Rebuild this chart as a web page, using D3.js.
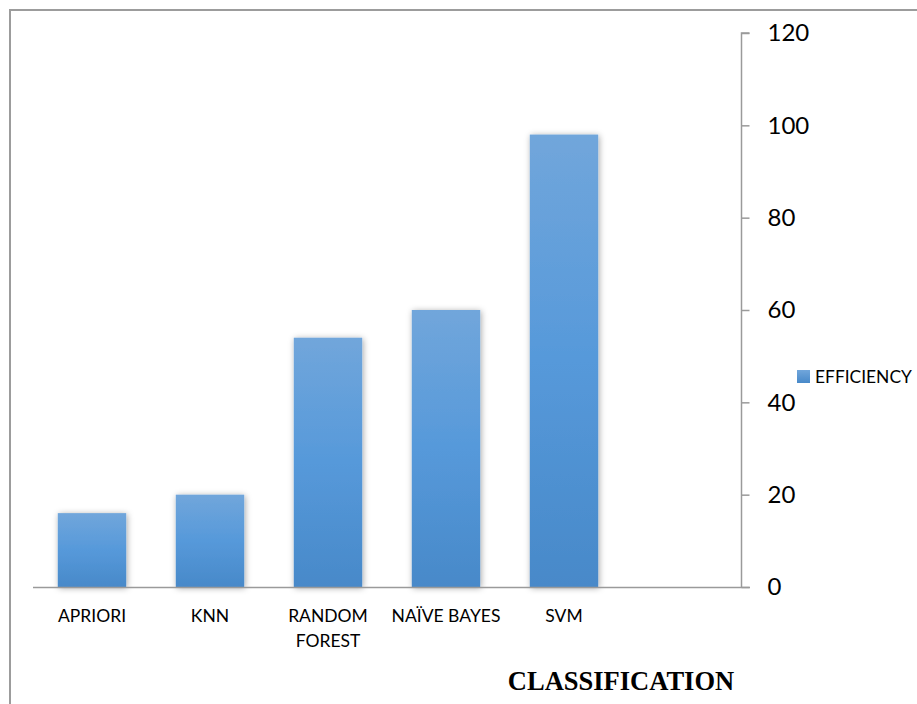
<!DOCTYPE html>
<html>
<head>
<meta charset="utf-8">
<script src="https://cdn.jsdelivr.net/npm/d3@7"></script>
<style>
  html, body { margin: 0; padding: 0; background: #fff; }
  svg { display: block; }
</style>
</head>
<body>
<svg id="chart" width="917" height="704"></svg>
<script>
// Classifier efficiency values; the last slot is left empty on purpose.
const categories = ["APRIORI", "KNN", "RANDOM FOREST", "NAÏVE BAYES", "SVM", ""];
const efficiency = [16, 20, 54, 60, 98, null];
const yTicks = [0, 20, 40, 60, 80, 100, 120];
const seriesName = "EFFICIENCY";
const axisTitle = "CLASSIFICATION";

const svg = d3.select("#chart");
const W = 917, H = 704;
const uiFont = "Lato, 'Open Sans', sans-serif";

const plot = { left: 33, right: 741, top: 33, bottom: 587 };

const x = d3.scaleBand()
  .domain(categories.map((c, i) => i))
  .range([plot.left, plot.right])
  .paddingInner(0.42)
  .paddingOuter(0.21);

const y = d3.scaleLinear().domain([0, 120]).range([plot.bottom, plot.top]);

const defs = svg.append("defs");
const grad = defs.append("linearGradient")
  .attr("id", "barFill").attr("x1", 0).attr("y1", 0).attr("x2", 0).attr("y2", 1);
grad.append("stop").attr("offset", "0%").attr("stop-color", "#71a6db");
grad.append("stop").attr("offset", "50%").attr("stop-color", "#5699da");
grad.append("stop").attr("offset", "100%").attr("stop-color", "#4889c9");

const legGrad = defs.append("linearGradient")
  .attr("id", "legFill").attr("x1", 0).attr("y1", 0).attr("x2", 0).attr("y2", 1);
legGrad.append("stop").attr("offset", "0%").attr("stop-color", "#71a6db");
legGrad.append("stop").attr("offset", "100%").attr("stop-color", "#4889c9");

const shadow = defs.append("filter").attr("id", "barShadow")
  .attr("x", "-20%").attr("y", "-10%").attr("width", "140%").attr("height", "120%");
shadow.append("feDropShadow")
  .attr("dx", 1).attr("dy", 1).attr("stdDeviation", 3)
  .attr("flood-color", "#000").attr("flood-opacity", 0.35);

// Outer frame (open to the right and bottom edges)
svg.append("path")
  .attr("d", `M${W},10H10V${H}`)
  .attr("fill", "none").attr("stroke", "#9c9c9c").attr("stroke-width", 2);

// Bars
const barData = categories.map((c, i) => ({ i, c, v: efficiency[i] })).filter(d => d.v != null);
svg.append("g").selectAll("rect").data(barData).join("rect")
  .attr("x", d => x(d.i))
  .attr("y", d => y(d.v))
  .attr("width", x.bandwidth())
  .attr("height", d => y(0) - y(d.v))
  .attr("fill", "url(#barFill)")
  .attr("filter", "url(#barShadow)");

// Category axis baseline
svg.append("line")
  .attr("x1", plot.left).attr("x2", plot.right + 9)
  .attr("y1", y(0) + 0.5).attr("y2", y(0) + 0.5)
  .attr("stroke", "#9a9a9a").attr("stroke-width", 1.5);

// Category labels (RANDOM FOREST wraps onto two lines)
const catG = svg.append("g")
  .attr("font-family", uiFont)
  .attr("font-size", 17.5).attr("fill", "#000");
categories.forEach((c, i) => {
  if (!c) return;
  const lines = c === "RANDOM FOREST" ? c.split(" ") : [c];
  const cx = x(i) + x.bandwidth() / 2;
  const t = catG.append("text")
    .attr("x", cx).attr("y", 622)
    .attr("text-anchor", "middle");
  lines.forEach((ln, k) => {
    t.append("tspan").attr("x", cx)
      .attr("dy", k === 0 ? 0 : 25).text(ln);
  });
});

// Value axis on the right
const yAxis = d3.axisRight(y).tickValues(yTicks).tickSize(8).tickPadding(18);
const ag = svg.append("g")
  .attr("transform", `translate(${plot.right + 0.5},0)`)
  .call(yAxis);
ag.select(".domain").attr("stroke", "#9a9a9a").attr("stroke-width", 1.5)
  .attr("d", `M8,${y(120)}H0V${y(0)}`);
ag.selectAll(".tick line").attr("stroke", "#9a9a9a").attr("stroke-width", 1.5);
ag.selectAll(".tick text")
  .attr("font-family", uiFont)
  .attr("font-size", 24).attr("fill", "#000");

// Legend
const lg = svg.append("g").attr("transform", "translate(797,370)");
lg.append("rect").attr("width", 13).attr("height", 13).attr("fill", "url(#legFill)");
lg.append("text").attr("x", 18).attr("y", 13)
  .attr("font-family", uiFont)
  .attr("font-size", 17.4).attr("fill", "#000").text(seriesName);

// Axis title
svg.append("text")
  .attr("x", 621).attr("y", 690)
  .attr("text-anchor", "middle")
  .attr("font-family", "'Liberation Serif', 'Times New Roman', serif")
  .attr("font-weight", "bold").attr("font-size", 26.5)
  .attr("fill", "#000").text(axisTitle);
</script>
</body>
</html>
